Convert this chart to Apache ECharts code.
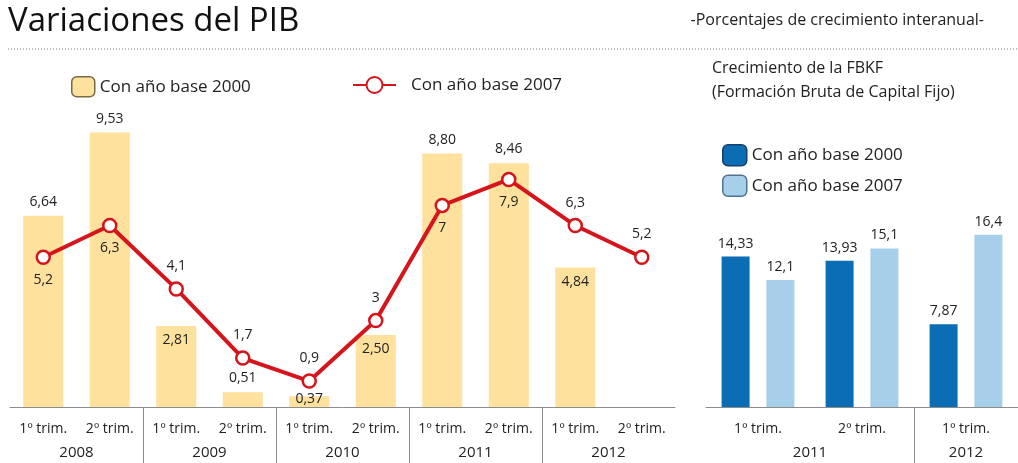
<!DOCTYPE html>
<html>
<head>
<meta charset="utf-8">
<script src="https://cdn.jsdelivr.net/npm/echarts@6/dist/echarts.min.js"></script>
<style>
html, body { margin: 0; padding: 0; background: #fff; }
#chart { width: 1018px; height: 463px; }
</style>
</head>
<body>
<div id="chart"></div>
<script>
// PIB: quarters 2008-2012
const quarters = ['1º trim.', '2º trim.', '1º trim.', '2º trim.', '1º trim.', '2º trim.', '1º trim.', '2º trim.', '1º trim.', '2º trim.']
const quarterYears = ['2008', '2008', '2009', '2009', '2010', '2010', '2011', '2011', '2012', '2012']
const pibBase2000 = [6.64, 9.53, 2.81, 0.51, 0.37, 2.50, 8.80, 8.46, 4.84, null]
const pibBase2007 = [5.2, 6.3, 4.1, 1.7, 0.9, 3, 7, 7.9, 6.3, 5.2]

// FBKF
const fbkfQuarters = ['1º trim.', '2º trim.', '1º trim.']
const fbkfYears = ['2011', '2011', '2012']
const fbkfBase2000 = [14.33, 13.93, 7.87]
const fbkfBase2007 = [12.1, 15.1, 16.4]

const FONT = '"Open Sans", "Noto Sans", sans-serif'
const YELLOW = '#fde19c'
const RED = '#d6141c'
const BLUE = '#0b6db4'
const LIGHT_BLUE = '#a6cfea'

// label placement tweaks (indices)
const barLabelsInside = [2, 5, 8]
const barLabelsOverlap = [4]
const lineLabelsBelow = [0, 1, 6, 7]

const comma2 = v => v.toFixed(2).replace('.', ',')
const comma = v => String(v).replace('.', ',')

function yearSpans(years) {
  const spans = []
  years.forEach((y, i) => {
    const last = spans[spans.length - 1]
    if (last && last.name === y) last.end = i + 1
    else spans.push({ name: y, start: i, end: i + 1 })
  })
  return spans
}

function quarterAxis(gridIndex, data) {
  return {
    type: 'category',
    gridIndex,
    position: 'bottom',
    data,
    axisLine: { lineStyle: { color: '#8c8c8c', width: 1 } },
    axisTick: { inside: true, length: 6, lineStyle: { color: '#8c8c8c' } },
    axisLabel: { color: '#222', fontSize: 14, fontFamily: FONT, margin: 15, interval: 0 },
  }
}

function yearAxis(gridIndex, years) {
  const spans = yearSpans(years)
  const labelMap = {}
  spans.forEach(s => (labelMap[(s.start + s.end) / 2] = s.name))
  return {
    type: 'value',
    gridIndex,
    position: 'bottom',
    min: 0,
    max: years.length,
    splitLine: { show: false },
    axisLine: { show: false },
    axisTick: {
      show: true,
      customValues: spans.slice(1).map(s => s.start),
      length: 56,
      lineStyle: { color: '#8c8c8c' },
    },
    axisLabel: {
      customValues: Object.keys(labelMap).map(Number),
      formatter: v => labelMap[v] || '',
      color: '#222',
      fontSize: 15,
      fontFamily: FONT,
      margin: 38,
    },
  }
}

const chart = echarts.init(document.getElementById('chart'))

chart.setOption({
  animation: false,
  textStyle: { fontFamily: FONT },
  title: [
    {
      text: 'Variaciones del PIB',
      left: 3,
      top: 0,
      textStyle: { fontSize: 33, fontWeight: 'normal', color: '#111', fontFamily: FONT },
    },
    {
      text: '-Porcentajes de crecimiento interanual-',
      right: 29,
      top: 7,
      textStyle: { fontSize: 16, fontWeight: 'normal', color: '#222', fontFamily: FONT },
    },
    {
      text: 'Crecimiento de la FBKF\n(Formación Bruta de Capital Fijo)',
      left: 707,
      top: 51,
      textStyle: { fontSize: 16, fontWeight: 'normal', color: '#222', lineHeight: 24, fontFamily: FONT },
    },
  ],
  graphic: [
    {
      type: 'line',
      shape: { x1: 8, y1: 49, x2: 1018, y2: 49 },
      style: { stroke: '#777', lineWidth: 1, lineDash: [1, 2] },
    },
  ],
  legend: [
    {
      left: 66,
      top: 71,
      itemWidth: 23,
      itemHeight: 20,
      textStyle: { fontSize: 17, color: '#222', fontFamily: FONT },
      data: [{ name: 'Con año base 2000', itemStyle: { borderColor: '#7a6a45', borderWidth: 1.5 } }],
    },
    {
      left: 347,
      top: 71,
      itemWidth: 43,
      itemHeight: 20,
      textStyle: { fontSize: 17, color: '#222', fontFamily: FONT, padding: [0, 0, 0, 10] },
      data: ['Con año base 2007'],
    },
    {
      left: 717,
      top: 139,
      orient: 'vertical',
      itemGap: 8,
      itemWidth: 24,
      itemHeight: 21,
      textStyle: { fontSize: 17, color: '#222', fontFamily: FONT },
      data: [
        { name: 'FBKF base 2000', itemStyle: { borderColor: '#163f6c', borderWidth: 1.5 } },
        { name: 'FBKF base 2007', itemStyle: { borderColor: '#4f7391', borderWidth: 1.5 } },
      ],
      formatter: n => n.replace('FBKF base', 'Con año base'),
    },
  ],
  grid: [
    { left: 10, right: 343, top: 119, bottom: 56 },
    { left: 706, right: 0, top: 197, bottom: 56 },
  ],
  xAxis: [
    quarterAxis(0, quarters),
    yearAxis(0, quarterYears),
    quarterAxis(1, fbkfQuarters),
    yearAxis(1, fbkfYears),
  ],
  yAxis: [
    { type: 'value', gridIndex: 0, min: 0, max: 10, show: false },
    { type: 'value', gridIndex: 1, min: 0, max: 20, show: false },
  ],
  series: [
    {
      name: 'Con año base 2000',
      type: 'bar',
      xAxisIndex: 0,
      yAxisIndex: 0,
      barWidth: 40,
      itemStyle: { color: YELLOW },
      emphasis: { disabled: true },
      label: {
        show: true,
        position: 'top',
        distance: 7,
        color: '#222',
        fontSize: 14,
        formatter: p => (p.value == null ? '' : comma2(p.value)),
      },
      data: pibBase2000.map((v, i) => {
        if (barLabelsInside.includes(i)) return { value: v, label: { position: 'insideTop', distance: 7 } }
        if (barLabelsOverlap.includes(i)) return { value: v, label: { position: 'top', distance: -10 } }
        return v
      }),
      z: 2,
    },
    {
      name: 'Con año base 2007',
      type: 'line',
      xAxisIndex: 0,
      yAxisIndex: 0,
      symbol: 'circle',
      symbolSize: 13,
      lineStyle: { color: RED, width: 4 },
      itemStyle: { color: '#fff', borderColor: RED, borderWidth: 2.5 },
      emphasis: { disabled: true },
      label: {
        show: true,
        position: 'top',
        distance: 8,
        color: '#222',
        fontSize: 14,
        formatter: p => comma(p.value),
      },
      data: pibBase2007.map((v, i) =>
        lineLabelsBelow.includes(i) ? { value: v, label: { position: 'bottom' } } : v
      ),
      z: 3,
    },
    {
      name: 'FBKF base 2000',
      type: 'bar',
      xAxisIndex: 2,
      yAxisIndex: 1,
      barWidth: 28,
      barGap: '60%',
      itemStyle: { color: BLUE },
      emphasis: { disabled: true },
      label: { show: true, position: 'top', distance: 6, color: '#222', fontSize: 14, formatter: p => comma2(p.value) },
      data: fbkfBase2000,
    },
    {
      name: 'FBKF base 2007',
      type: 'bar',
      xAxisIndex: 2,
      yAxisIndex: 1,
      barWidth: 28,
      barGap: '60%',
      itemStyle: { color: LIGHT_BLUE },
      emphasis: { disabled: true },
      label: { show: true, position: 'top', distance: 6, color: '#222', fontSize: 14, formatter: p => comma(p.value) },
      data: fbkfBase2007,
    },
  ],
})
</script>
</body>
</html>
